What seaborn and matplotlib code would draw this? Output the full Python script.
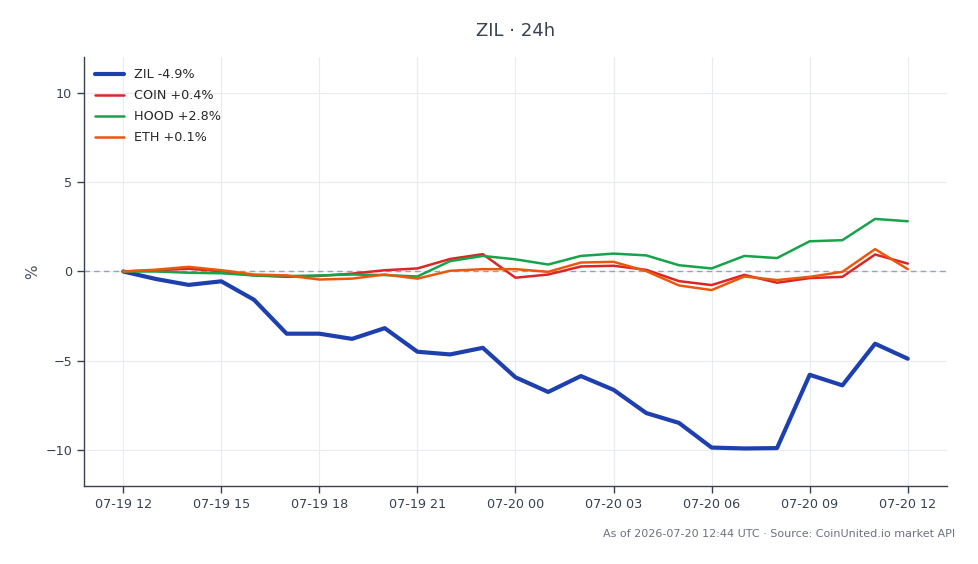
import numpy as np
import pandas as pd
import matplotlib
matplotlib.use("Agg")
import matplotlib.pyplot as plt
import matplotlib.dates as mdates
import seaborn as sns

hours = pd.date_range("2026-07-19 12:00", periods=25, freq="h")
zil = [0, -0.42, -0.75, -0.55, -1.58, -3.48, -3.48, -3.77, -3.17, -4.49, -4.64, -4.27,
       -5.92, -6.74, -5.85, -6.62, -7.92, -8.47, -9.85, -9.9, -9.88, -5.78, -6.37, -4.04, -4.88]
coin = [0, 0.07, 0.15, 0.02, -0.22, -0.3, -0.25, -0.12, 0.07, 0.17, 0.7, 0.97,
        -0.35, -0.17, 0.28, 0.32, 0.09, -0.54, -0.76, -0.19, -0.63, -0.37, -0.3, 0.95, 0.44]
hood = [0, 0.0, -0.07, -0.1, -0.22, -0.26, -0.22, -0.17, -0.2, -0.28, 0.58, 0.87,
        0.68, 0.39, 0.87, 1.0, 0.9, 0.35, 0.17, 0.87, 0.75, 1.69, 1.75, 2.94, 2.81]
eth = [0, 0.1, 0.26, 0.07, -0.17, -0.22, -0.45, -0.4, -0.17, -0.4, 0.04, 0.13,
       0.13, -0.02, 0.5, 0.54, 0.02, -0.78, -1.04, -0.28, -0.48, -0.3, -0.02, 1.25, 0.13]
names = ["ZIL", "COIN", "HOOD", "ETH"]
colors = ["#1e40af", "#dc2626", "#16a34a", "#ea580c"]
widths = [3.0, 1.8, 1.8, 1.8]
series = [zil, coin, hood, eth]

labels = [f"{n} {s[-1]:+.1f}%" for n, s in zip(names, series)]
df = pd.concat([pd.DataFrame({"time": hours, "pct": s, "asset": lab})
                for s, lab in zip(series, labels)], ignore_index=True)

sns.set_theme(style="whitegrid")
plt.rcParams["font.family"] = ["DejaVu Sans"]

fig = plt.figure(figsize=(9.79, 5.64), dpi=100)
ax = fig.add_axes([0.0858, 0.1383, 0.8815, 0.7607])

sns.lineplot(data=df, x="time", y="pct", hue="asset", hue_order=labels,
             palette=dict(zip(labels, colors)), size="asset", size_order=labels,
             sizes=dict(zip(labels, widths)), ax=ax)
ax.axhline(0, color="#94a3b8", lw=1.0, ls=(0, (4, 3)), zorder=1)

ax.set_ylim(-12, 12)
ax.set_yticks([-10, -5, 0, 5, 10])
ax.set_yticklabels(["\u221210", "\u22125", "0", "5", "10"])
ax.xaxis.set_major_locator(mdates.HourLocator(byhour=range(0, 24, 3)))
ax.xaxis.set_major_formatter(mdates.DateFormatter("%m-%d %H"))
ax.set_xlabel("")
ax.set_ylabel("%", color="#4b5563", fontsize=11)

ax.grid(True, color="#e8ebf0", lw=0.8)
ax.set_facecolor("white")
for s in ["top", "right"]:
    ax.spines[s].set_visible(False)
for s in ["left", "bottom"]:
    ax.spines[s].set_color("#374151")
    ax.spines[s].set_linewidth(1.0)
ax.tick_params(axis="both", colors="#374151", labelsize=9.2, length=5, width=1,
               labelcolor="#374151", left=True, bottom=True)

handles, labs = ax.get_legend_handles_labels()
leg = ax.legend(handles, labs, loc="upper left", frameon=False, fontsize=9.2,
                handlelength=2.2, handletextpad=0.8, borderaxespad=0.5,
                labelspacing=0.62)

fig.text(0.527, 0.945, "ZIL \u00b7 24h", ha="center", va="center",
         fontsize=13, color="#374151")
fig.text(0.976, 0.053, "As of 2026-07-20 12:44 UTC \u00b7 Source: CoinUnited.io market API",
         ha="right", va="center", fontsize=8, color="#6b7280")

fig.savefig("out.png", dpi=100)
